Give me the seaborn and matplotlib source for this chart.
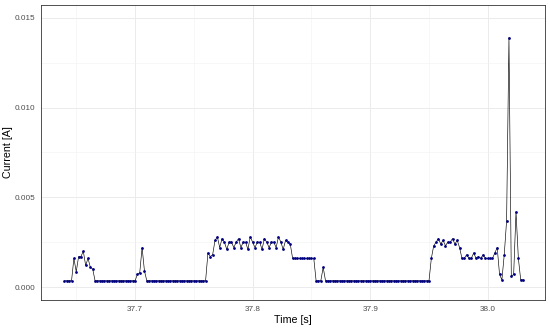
import numpy as np
import pandas as pd
import matplotlib
matplotlib.use("Agg")
import matplotlib.pyplot as plt
import seaborn as sns
from matplotlib.ticker import MultipleLocator, FormatStrFormatter

# current trace sampled every 2 ms starting at 37.640 s
T_START = 37.640
T_STEP = 0.002
BASE = 0.00035

burst_a = [0.0016, 0.00085, 0.0017, 0.0017, 0.0020, 0.0012, 0.0016, 0.0011, 0.0010]
burst_b = [0.0007, 0.0008, 0.0022, 0.0009]
block_rise = [0.0019, 0.0017, 0.0018]
block_top = [0.0026, 0.0028, 0.0022, 0.0027, 0.0025, 0.0021, 0.0025, 0.0025,
             0.0022, 0.0025, 0.0027, 0.0022, 0.0025, 0.0025, 0.0021, 0.0028,
             0.0025, 0.0022, 0.0025, 0.0025, 0.0021, 0.0027, 0.0025, 0.0022,
             0.0025, 0.0025, 0.0022, 0.0028, 0.0025, 0.0021, 0.0026, 0.0025,
             0.0024]
block_step = [0.0016, 0.0016, 0.0016, 0.0016, 0.0016, 0.0016, 0.0016,
              0.0016, 0.0016, 0.0016]
spike_c = [0.0011]
group_top = [0.0016, 0.0023, 0.0025, 0.0027, 0.0024, 0.0026, 0.0023, 0.0025,
             0.0025, 0.0027, 0.0024, 0.0026, 0.0022]
group_low = [0.0016, 0.0016, 0.0018, 0.0016, 0.0016, 0.0019, 0.0016, 0.0017,
             0.0016, 0.0018, 0.0016, 0.0016, 0.0016, 0.0016, 0.0019]
tail = [0.0022, 0.0007, 0.0004, 0.0018, 0.0037, 0.0139, 0.0006, 0.0007,
        0.0042, 0.0016, 0.0004, 0.0004]

current_a = ([BASE] * 4 + burst_a + [BASE] * 18 + burst_b + [BASE] * 26
             + block_rise + block_top + block_step + [BASE] * 3 + spike_c
             + [BASE] * 45 + group_top + group_low + tail)
time_s = np.round(T_START + T_STEP * np.arange(len(current_a)), 3)

df = pd.DataFrame({"time": time_s, "current": current_a})

sns.set_style("white")
plt.rcParams["font.family"] = ["Liberation Sans", "DejaVu Sans"]

fig = plt.figure(figsize=(5.5, 3.33), dpi=100)
ax = fig.add_axes([0.0745, 0.099, 0.9165, 0.886])

sns.lineplot(data=df, x="time", y="current", color="black", lw=0.45,
             ax=ax, zorder=3)
sns.scatterplot(data=df, x="time", y="current", color="#000080", s=4,
                linewidth=0, ax=ax, zorder=4)

ax.set_xlim(37.620, 38.0487)
ax.set_ylim(-0.000725, 0.01572)

ax.xaxis.set_major_locator(MultipleLocator(0.1))
ax.xaxis.set_minor_locator(MultipleLocator(0.05))
ax.yaxis.set_major_locator(MultipleLocator(0.005))
ax.yaxis.set_minor_locator(MultipleLocator(0.0025))
ax.xaxis.set_major_formatter(FormatStrFormatter("%.1f"))
ax.yaxis.set_major_formatter(FormatStrFormatter("%.3f"))

ax.set_axisbelow(True)
ax.grid(which="major", color="#EBEBEB", lw=0.7)
ax.grid(which="minor", color="#F2F2F2", lw=0.4)

for sp in ax.spines.values():
    sp.set_color("#333333")
    sp.set_linewidth(0.6)

ax.tick_params(which="major", direction="out", length=2.5, width=0.5,
               color="#333333", labelcolor="#4D4D4D", labelsize=5.9, pad=1.5)
ax.tick_params(which="minor", length=0)

ax.set_xlabel("Time [s]", fontsize=7.7, color="black", labelpad=2)
ax.set_ylabel("Current [A]", fontsize=7.7, color="black", labelpad=1.5)

fig.savefig("out.png", dpi=100)
